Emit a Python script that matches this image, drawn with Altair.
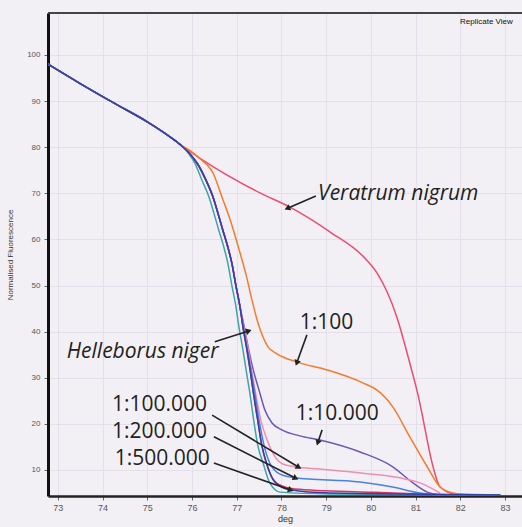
import math
import altair as alt
import pandas as pd

# ---- data ----
# common start shared by every curve
prefix_x = [72.78, 73.5, 74.25, 75.0, 75.5, 75.73]
prefix_y = [98.0, 93.8, 89.6, 85.5, 82.3, 80.6]

ver_x = [76.18, 77.52, 78.19, 79.09, 79.91, 80.14, 80.58, 80.87, 81.08, 81.14, 81.37, 81.55, 81.88, 82.89]
ver_y = [77.6, 70.1, 67.0, 61.6, 55.5, 52.7, 43.2, 33.2, 25.2, 22.4, 11.5, 6.3, 4.8, 4.6]

d100_x = [75.95, 76.18, 76.47, 76.67, 76.87, 77.05, 77.21, 77.34, 77.47, 77.59, 77.70, 77.90, 78.35,
          79.02, 79.82, 80.14, 80.49, 80.87, 81.26, 81.55, 81.84, 82.15]
d100_y = [79.3, 77.5, 74.4, 69.2, 63.8, 57.9, 52.3, 46.9, 42.1, 38.8, 36.7, 35.2, 33.4,
          31.7, 28.9, 27.3, 23.7, 17.2, 10.7, 6.3, 5.0, 4.6]

# upper part of the steep descent shared by the Helleborus dilutions
hup_x = [75.95, 76.13, 76.31, 76.47, 76.58, 76.69, 76.80, 76.89, 76.98, 77.07]
hup_y = [78.6, 76.3, 72.9, 69.2, 65.7, 62.0, 58.4, 54.9, 50.1, 45.6]

hel_x = [77.14, 77.23, 77.30, 77.38, 77.47, 77.56, 77.68, 77.85, 78.19, 79.09, 82.9]
hel_y = [41.0, 36.0, 31.7, 26.3, 20.8, 15.4, 11.1, 7.4, 5.7, 5.0, 4.6]

teal_x = [75.92, 76.06, 76.22, 76.38, 76.49, 76.60, 76.71, 76.80, 76.89, 76.98, 77.05, 77.14, 77.21,
          77.30, 77.38, 77.47, 77.59, 77.74, 77.97, 79.09, 82.9]
teal_y = [78.7, 76.6, 72.9, 69.2, 65.7, 62.0, 58.4, 54.9, 50.1, 45.6, 41.0, 36.0, 31.7,
          26.3, 20.8, 15.4, 11.5, 7.2, 5.2, 4.8, 4.6]

d10k_x = [77.17, 77.27, 77.37, 77.50, 77.63, 77.79, 78.01, 78.41, 78.86, 79.76, 80.49, 80.94, 81.26, 81.55]
d10k_y = [41.0, 36.0, 31.7, 27.3, 23.0, 20.2, 18.7, 17.4, 16.5, 13.9, 10.7, 7.2, 5.2, 4.6]

d100k_x = [77.16, 77.26, 77.33, 77.43, 77.54, 77.68, 77.83, 78.03, 78.30, 78.86, 79.82, 80.65, 81.1, 81.55]
d100k_y = [41.0, 36.0, 31.7, 26.3, 20.8, 16.5, 13.3, 11.3, 10.7, 10.2, 9.3, 8.3, 7.2, 5.0]

d200k_x = [77.15, 77.24, 77.32, 77.41, 77.50, 77.61, 77.74, 77.97, 78.30, 79.76, 80.49, 81.1, 81.55]
d200k_y = [41.0, 36.0, 31.7, 26.3, 20.8, 15.4, 11.5, 9.1, 8.3, 7.4, 6.3, 5.0, 4.6]

d500k_x = [77.14, 77.23, 77.30, 77.38, 77.47, 77.56, 77.70, 77.92, 78.30, 79.98, 81.1, 82.0]
d500k_y = [41.0, 36.0, 31.7, 26.3, 20.8, 15.4, 10.4, 7.0, 5.9, 5.2, 4.8, 4.6]

series_names = ["Veratrum nigrum", "1:100", "1:10.000", "1:100.000", "1:200.000",
                "1:500.000", "Helleborus teal", "Helleborus niger"]
series_x = [ver_x, d100_x, d10k_x, d100k_x, d200k_x, d500k_x, teal_x, hel_x]
series_y = [ver_y, d100_y, d10k_y, d100k_y, d200k_y, d500k_y, teal_y, hel_y]
uses_hup = [False, False, True, True, True, True, False, True]
series_colors = ["#ec4d6c", "#f47b2c", "#6a57b8", "#f08db2", "#4b80e0", "#d8345a", "#3fa3a8", "#3040b0"]

# labels: text, x, y, italic, arrow start (x, y), arrow tip (x, y)
lab_text = ["Veratrum nigrum", "1:100", "1:10.000", "Helleborus niger", "1:100.000", "1:200.000", "1:500.000"]
lab_x = [78.82, 78.41, 78.32, 73.2, 74.21, 74.21, 74.27]
lab_y = [69.9, 41.9, 22.1, 35.6, 24.1, 18.2, 12.4]
lab_italic = [True, False, False, True, False, False, False]
arr_x1 = [78.77, 78.57, 78.91, 76.51, 76.45, 76.49, 76.49]
arr_y1 = [69.4, 39.3, 18.7, 37.8, 21.9, 17.2, 11.5]
arr_x2 = [78.15, 78.35, 78.82, 77.25, 78.37, 78.3, 78.19]
arr_y2 = [66.8, 33.4, 16.1, 40.1, 10.7, 8.3, 5.7]

x_ticks = [73, 74, 75, 76, 77, 78, 79, 80, 81, 82, 83]
y_ticks = [10, 20, 30, 40, 50, 60, 70, 80, 90, 100]

# ---- layout ----
W, H = 474, 483
XD = [72.78, 83.38]
YD = [4.36, 109.1]
BG = "#f3f0f5"

rows = []
for name, xs, ys, hu in zip(series_names, series_x, series_y, uses_hup):
    pts = list(zip(prefix_x, prefix_y))
    if hu:
        pts += list(zip(hup_x, hup_y))
    pts += list(zip(xs, ys))
    for i, (a, b) in enumerate(pts):
        rows.append({"s": name, "x": a, "y": b, "o": i})
df = pd.DataFrame(rows)

xs_ = alt.Scale(domain=XD, nice=False, zero=False)
ys_ = alt.Scale(domain=YD, nice=False, zero=False)

lines = alt.Chart(df).mark_line(strokeWidth=1.5, clip=True, interpolate="monotone").encode(
    x=alt.X("x:Q", scale=xs_, title="deg",
            axis=alt.Axis(values=x_ticks, grid=True, gridColor="#e4e0ea", gridWidth=1,
                          domainColor="#222", domainWidth=2.5, tickColor="#666", tickSize=4,
                          labelFont="Liberation Sans", labelFontSize=9, labelColor="#555",
                          labelPadding=3, titleFont="Liberation Sans", titleFontSize=9,
                          titleFontWeight="normal", titleColor="#333", titlePadding=2)),
    y=alt.Y("y:Q", scale=ys_, title="Normalised Fluorescence",
            axis=alt.Axis(values=y_ticks, grid=True, gridColor="#e4e0ea", gridWidth=1,
                          domainColor="#111", domainWidth=3, tickColor="#666", tickSize=4,
                          labelFont="Liberation Sans", labelFontSize=8, labelColor="#555",
                          labelPadding=4, titleFont="Liberation Sans", titleFontSize=8,
                          titleFontWeight="normal", titleColor="#333", titlePadding=12)),
    color=alt.Color("s:N", scale=alt.Scale(domain=series_names, range=series_colors), legend=None),
    order="o:Q",
)

ann = pd.DataFrame({"t": lab_text, "x": lab_x, "y": lab_y,
                    "st": ["italic" if b else "normal" for b in lab_italic],
                    "x1": arr_x1, "y1": arr_y1, "x2": arr_x2, "y2": arr_y2})
# arrowhead angle in screen space
sx = W / (XD[1] - XD[0])
sy = H / (YD[1] - YD[0])
ang = []
for a, b, c, d in zip(arr_x1, arr_y1, arr_x2, arr_y2):
    dx = (c - a) * sx
    dy = -(d - b) * sy
    deg = math.degrees(math.atan2(dx, -dy))  # 0 = pointing up
    ang.append(deg % 360)
ann["ang"] = ang

txt_n = alt.Chart(ann[ann.st == "normal"]).mark_text(
    align="left", baseline="middle", font="Open Sans", fontSize=21, color="#222"
).encode(x=alt.X("x:Q", scale=xs_), y=alt.Y("y:Q", scale=ys_), text="t:N")
txt_i = alt.Chart(ann[ann.st == "italic"]).mark_text(
    align="left", baseline="middle", font="Open Sans", fontSize=21, fontStyle="italic", color="#222"
).encode(x=alt.X("x:Q", scale=xs_), y=alt.Y("y:Q", scale=ys_), text="t:N")

arrows = alt.Chart(ann).mark_rule(color="#222", strokeWidth=1.6).encode(
    x=alt.X("x1:Q", scale=xs_), y=alt.Y("y1:Q", scale=ys_),
    x2="x2:Q", y2="y2:Q")
heads = alt.Chart(ann).mark_point(shape="triangle", filled=True, color="#222", size=45, opacity=1).encode(
    x=alt.X("x2:Q", scale=xs_), y=alt.Y("y2:Q", scale=ys_),
    angle=alt.Angle("ang:Q", scale=None))

top = alt.Chart(pd.DataFrame({"a": [0]})).mark_rule(color="#444", strokeWidth=2).encode(
    x=alt.value(0), x2=alt.value(W), y=alt.value(0))
rep = alt.Chart(pd.DataFrame({"t": ["Replicate View"]})).mark_text(
    align="left", baseline="middle", font="Liberation Sans", fontSize=8, color="#111"
).encode(x=alt.value(412), y=alt.value(9), text="t:N")

chart = alt.layer(lines, arrows, heads, txt_n, txt_i, top, rep).properties(
    width=W, height=H, background=BG,
    padding={"left": 48, "top": 13, "right": 0, "bottom": 31},
    autosize=alt.AutoSizeParams(type="none"),
).configure_view(stroke=None, fill=BG)

chart.save("out.html", embed_options={"renderer": "svg", "actions": False})
